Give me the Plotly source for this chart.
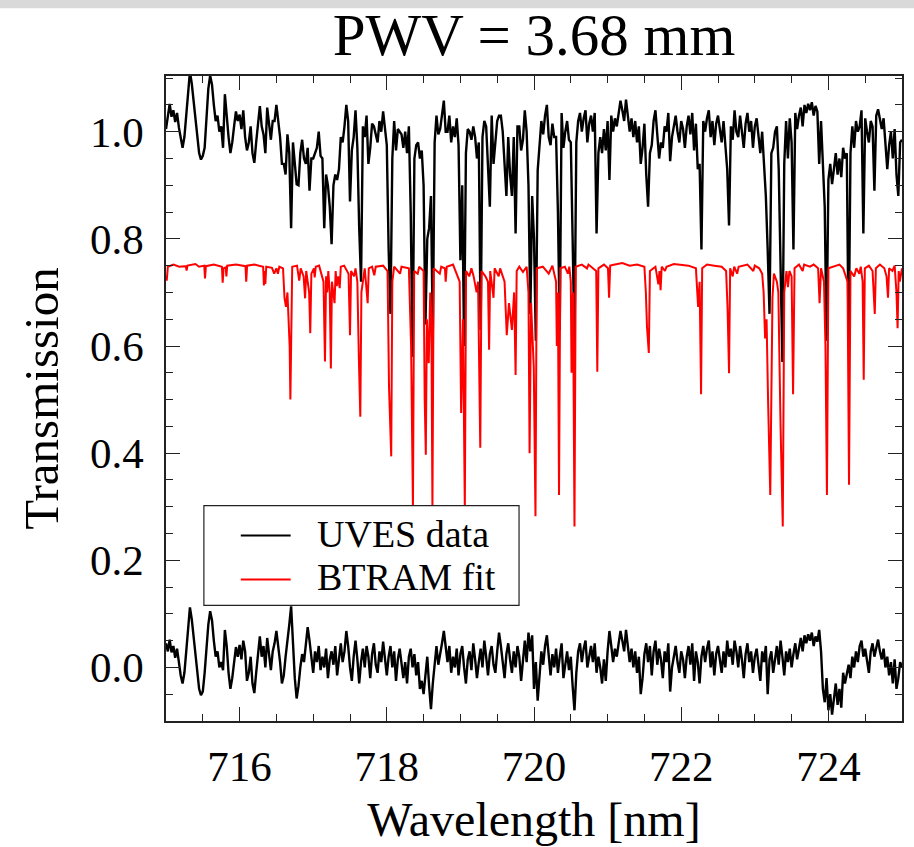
import plotly.graph_objects as go

# wavelength grid of the UVES spectrum (nm)
wl = [round(715.0 + 0.025 * i, 3) for i in range(401)]

# UVES observed transmission (one row = 0.25 nm)
uves = [
    1.005, 1.030, 1.052, 1.028, 1.040, 1.018, 1.035, 1.008, 0.985, 0.970,
    0.990, 1.030, 1.075, 1.112, 1.090, 1.060, 1.030, 0.990, 0.960, 0.948,
    0.955, 0.970, 1.035, 1.080, 1.105, 1.088, 1.050, 1.020, 1.030, 1.000,
    1.010, 0.970, 1.070, 1.020, 0.990, 0.960, 0.980, 1.010, 1.038, 1.020,
    1.032, 1.005, 1.040, 0.990, 0.965, 0.980, 1.010, 0.960, 0.942, 0.980,
    1.020, 1.048, 1.010, 0.995, 0.960, 1.045, 1.015, 0.985, 1.020, 1.020,
    1.050, 1.020, 0.990, 0.940, 0.940, 0.920, 0.995, 0.960, 0.820, 0.980,
    0.940, 0.902, 0.900, 0.960, 0.985, 0.950, 0.940, 0.970, 0.890, 0.950,
    0.950, 0.960, 0.970, 1.000, 0.955, 0.950, 0.820, 0.920, 0.900, 0.860,
    0.790, 0.900, 0.920, 0.910, 0.930, 0.990, 0.980, 1.010, 1.050, 1.020,
    0.870, 0.965, 0.990, 1.040, 0.970, 0.820, 0.720, 1.010, 0.990, 1.030,
    0.940, 0.970, 1.015, 1.010, 0.995, 0.980, 1.020, 1.000, 1.038, 1.005,
    0.975, 0.780, 0.660, 0.950, 1.020, 0.965, 1.005, 1.000, 0.995, 0.970,
    1.000, 0.960, 1.010, 0.850, 0.580, 0.950, 0.975, 0.980, 0.950, 0.965,
    0.900, 0.640, 0.800, 0.820, 0.880, 0.620, 0.980, 1.030, 0.995, 1.005,
    1.035, 1.058, 1.000, 1.000, 1.030, 0.980, 1.010, 0.990, 1.025, 0.975,
    0.760, 0.900, 0.600, 0.960, 1.005, 1.000, 0.985, 1.010, 0.990, 0.950,
    0.980, 0.630, 0.990, 1.020, 1.010, 0.920, 0.860, 1.030, 0.940, 0.980,
    1.020, 1.030, 1.030, 1.000, 0.940, 0.880, 0.990, 0.920, 0.880, 0.990,
    0.810, 1.010, 1.010, 0.965, 0.985, 1.040, 1.000, 0.900, 0.660, 0.880,
    0.800, 0.610, 0.928, 0.970, 1.020, 0.995, 1.030, 1.050, 0.990, 0.975,
    1.015, 0.990, 0.990, 0.850, 0.630, 1.035, 0.970, 1.000, 1.020, 0.985,
    0.980, 0.800, 0.600, 0.980, 1.020, 1.035, 1.000, 1.025, 1.040, 0.980,
    1.015, 1.030, 1.000, 1.035, 0.810, 0.960, 0.990, 0.960, 1.005, 0.965,
    1.020, 0.910, 1.030, 1.000, 1.025, 1.010, 1.035, 1.058, 1.040, 1.020,
    1.060, 1.030, 1.000, 1.025, 0.990, 1.020, 0.980, 1.010, 0.940, 0.970,
    1.015, 0.920, 0.860, 0.960, 0.975, 1.020, 1.040, 0.995, 0.950, 0.980,
    0.970, 1.010, 1.000, 1.035, 0.945, 0.990, 1.015, 1.030, 1.000, 0.980,
    1.020, 1.005, 0.970, 1.010, 1.030, 0.995, 1.035, 0.965, 1.015, 0.930,
    0.940, 0.780, 1.020, 1.000, 1.025, 1.040, 0.990, 1.020, 0.975, 1.015,
    1.030, 1.000, 0.980, 1.020, 0.980, 0.930, 0.825, 1.010, 0.985, 1.040,
    1.000, 0.990, 1.030, 1.005, 0.970, 1.015, 1.035, 1.000, 1.020, 0.970,
    1.010, 1.025, 0.990, 0.960, 1.000, 0.940, 0.880, 0.780, 0.660, 0.960,
    0.970, 1.000, 1.010, 0.930, 0.720, 0.570, 0.940, 1.020, 0.950, 1.025,
    0.980, 0.780, 1.035, 1.005, 1.030, 1.045, 1.010, 1.050, 1.035, 1.052,
    1.040, 1.055, 1.030, 1.048, 1.038, 0.940, 1.020, 0.950, 0.860, 0.610,
    0.910, 0.940, 0.902, 0.930, 0.960, 0.920, 0.950, 0.915, 0.970, 0.950,
    0.960, 0.600, 0.960, 1.010, 0.970, 1.020, 1.000, 1.010, 1.040, 0.810,
    1.025, 1.000, 0.980, 1.020, 1.010, 0.890, 1.030, 1.042, 1.020, 1.005,
    1.025, 0.980, 0.930, 0.975, 1.000, 0.950, 1.005, 0.920, 0.880, 0.980,
    0.985,
]

# residuals UVES - BTRAM (one row = 0.25 nm)
resid = [
    0.045, 0.030, 0.052, 0.028, 0.040, 0.018, 0.035, 0.008, -0.015, -0.030,
    -0.010, 0.030, 0.075, 0.112, 0.090, 0.060, 0.030, -0.010, -0.040, -0.052,
    -0.045, -0.010, 0.035, 0.080, 0.105, 0.088, 0.050, 0.020, 0.030, 0.000,
    0.010, -0.005, 0.070, 0.040, -0.010, -0.040, -0.020, 0.010, 0.038, 0.020,
    0.042, 0.015, 0.050, 0.030, -0.025, -0.010, 0.020, -0.030, -0.048, -0.010,
    0.030, 0.058, 0.020, 0.040, 0.000, 0.055, 0.025, -0.005, 0.030, 0.045,
    0.068, 0.040, 0.010, -0.030, -0.015, 0.020, 0.045, 0.080, 0.114, 0.040,
    -0.020, -0.058, -0.035, 0.000, 0.025, 0.010, 0.045, 0.075, 0.050, 0.020,
    -0.010, 0.030, 0.010, 0.040, -0.005, 0.020, 0.000, 0.035, -0.020, 0.015,
    0.030, 0.005, 0.040, -0.015, 0.020, 0.045, 0.010, 0.030, 0.068, 0.040,
    0.000, -0.025, 0.020, 0.050, 0.015, -0.030, 0.010, 0.035, 0.000, 0.040,
    0.020, -0.020, 0.025, 0.045, 0.005, -0.010, 0.030, 0.010, 0.048, 0.015,
    -0.015, 0.020, 0.040, 0.000, 0.030, -0.025, 0.015, 0.035, 0.005, -0.020,
    0.010, -0.030, 0.020, 0.035, 0.000, 0.025, -0.015, 0.010, -0.040, -0.025,
    -0.050, -0.010, 0.020, -0.035, -0.078, -0.030, 0.010, 0.040, 0.005, 0.030,
    0.045, 0.068, 0.035, 0.010, 0.040, -0.010, 0.020, 0.000, 0.035, -0.015,
    0.025, 0.040, 0.000, -0.030, 0.015, 0.030, -0.005, 0.045, 0.015, -0.020,
    0.010, 0.035, 0.000, 0.050, 0.020, -0.015, 0.025, 0.040, 0.005, -0.010,
    0.030, 0.065, 0.040, 0.010, -0.020, 0.025, 0.045, 0.015, -0.010, 0.030,
    0.000, 0.040, 0.020, -0.025, 0.015, 0.050, 0.010, 0.065, 0.030, 0.060,
    -0.040, 0.010, -0.062, -0.020, 0.030, 0.005, 0.040, 0.060, 0.020, -0.015,
    0.025, 0.000, 0.035, -0.010, 0.020, 0.045, -0.020, 0.010, 0.030, -0.005,
    0.020, -0.035, -0.080, -0.010, 0.030, 0.045, 0.010, 0.035, 0.050, 0.000,
    0.025, 0.040, 0.010, 0.045, -0.010, 0.020, 0.000, -0.030, 0.015, -0.025,
    0.030, 0.068, 0.040, 0.010, 0.035, 0.020, 0.045, 0.068, 0.050, 0.030,
    0.070, 0.040, 0.010, 0.035, 0.000, 0.030, -0.010, 0.020, -0.050, -0.020,
    0.025, 0.045, 0.010, 0.040, -0.015, 0.030, 0.050, 0.005, 0.035, 0.015,
    -0.020, 0.030, 0.010, 0.045, -0.045, 0.000, 0.025, 0.040, 0.010, -0.010,
    0.030, 0.015, -0.020, 0.020, 0.040, 0.005, 0.045, -0.025, 0.030, 0.010,
    -0.030, 0.020, 0.040, 0.010, 0.035, 0.050, 0.000, 0.030, -0.015, 0.025,
    0.040, 0.010, -0.010, 0.030, 0.000, 0.050, 0.020, 0.035, 0.005, 0.050,
    0.030, 0.000, 0.040, 0.015, -0.020, 0.025, 0.045, 0.010, 0.030, -0.010,
    0.020, 0.035, 0.000, -0.025, 0.030, 0.010, 0.040, -0.050, 0.015, 0.030,
    -0.010, 0.020, 0.040, 0.005, 0.050, 0.020, -0.015, 0.030, 0.010, 0.035,
    0.000, 0.025, 0.045, 0.015, 0.040, 0.055, 0.030, 0.060, 0.045, 0.062,
    0.050, 0.065, 0.040, 0.058, 0.048, 0.070, 0.030, -0.040, -0.065, -0.020,
    -0.080, -0.050, -0.088, -0.060, -0.030, -0.070, -0.040, -0.075, -0.010, -0.030,
    -0.010, 0.005, -0.020, 0.020, 0.000, 0.030, 0.010, 0.040, 0.050, 0.020,
    0.035, 0.010, -0.010, 0.030, 0.045, 0.020, 0.040, 0.052, 0.030, 0.015,
    0.035, 0.000, 0.020, -0.015, 0.010, -0.030, 0.015, -0.040, -0.020, 0.010,
    0.000,
]

# BTRAM model (shown offset, continuum at 0.75)
btram_wl = [
    715.000, 715.010, 715.025, 715.100, 715.180, 715.270, 715.280, 715.292, 715.400, 715.450,
    715.520, 715.530, 715.542, 715.650, 715.760, 715.770, 715.782, 715.812, 715.820, 715.832,
    715.950, 716.080, 716.090, 716.102, 716.200, 716.320, 716.330, 716.342, 716.350, 716.362,
    716.440, 716.470, 716.500, 716.520, 716.540, 716.590, 716.610, 716.630, 716.650, 716.680,
    716.690, 716.700, 716.715, 716.780, 716.810, 716.830, 716.870, 716.890, 716.905, 716.945,
    716.960, 716.975, 717.010, 717.020, 717.035, 717.080, 717.140, 717.160, 717.175, 717.190,
    717.205, 717.225, 717.240, 717.255, 717.290, 717.305, 717.320, 717.340, 717.360, 717.375,
    717.420, 717.480, 717.500, 717.515, 717.555, 717.575, 717.600, 717.620, 717.640, 717.655,
    717.700, 717.740, 717.755, 717.800, 717.830, 717.850, 717.950, 718.010, 718.030, 718.060,
    718.075, 718.100, 718.180, 718.200, 718.300, 718.330, 718.355, 718.372, 718.420, 718.440,
    718.500, 718.515, 718.530, 718.545, 718.570, 718.590, 718.605, 718.620, 718.637, 718.720,
    718.740, 718.790, 718.800, 718.815, 718.900, 718.990, 719.010, 719.035, 719.060, 719.077,
    719.120, 719.150, 719.180, 719.220, 719.240, 719.270, 719.287, 719.340, 719.375, 719.390,
    719.405, 719.450, 719.465, 719.520, 719.540, 719.600, 719.630, 719.660, 719.700, 719.730,
    719.750, 719.765, 719.800, 719.850, 719.900, 719.925, 719.940, 719.960, 719.997, 720.020,
    720.037, 720.120, 720.200, 720.250, 720.300, 720.310, 720.325, 720.340, 720.357, 720.420,
    720.460, 720.480, 720.500, 720.510, 720.530, 720.550, 720.567, 720.650, 720.720, 720.740,
    720.845, 720.860, 720.875, 720.950, 721.005, 721.020, 721.035, 721.100, 721.200, 721.300,
    721.400, 721.500, 721.520, 721.535, 721.560, 721.575, 721.650, 721.690, 721.705, 721.720,
    721.735, 721.780, 721.800, 721.900, 722.000, 722.100, 722.200, 722.230, 722.250, 722.270,
    722.285, 722.350, 722.450, 722.550, 722.610, 722.630, 722.650, 722.665, 722.700, 722.720,
    722.760, 722.780, 722.900, 722.980, 723.000, 723.060, 723.100, 723.120, 723.140, 723.160,
    723.180, 723.210, 723.240, 723.260, 723.300, 723.320, 723.350, 723.380, 723.400, 723.430,
    723.450, 723.470, 723.500, 723.520, 723.540, 723.600, 723.650, 723.670, 723.750, 723.800,
    723.860, 723.880, 723.900, 723.940, 723.960, 723.980, 724.000, 724.080, 724.150, 724.200,
    724.260, 724.280, 724.300, 724.350, 724.380, 724.420, 724.440, 724.465, 724.480, 724.495,
    724.550, 724.600, 724.630, 724.645, 724.700, 724.760, 724.790, 724.810, 724.825, 724.870,
    724.900, 724.925, 724.940, 724.955, 724.970, 725.000,
]
btram_tr = [
    0.730, 0.722, 0.748, 0.752, 0.748, 0.749, 0.741, 0.750, 0.753, 0.748,
    0.750, 0.726, 0.749, 0.752, 0.748, 0.718, 0.745, 0.747, 0.730, 0.750,
    0.752, 0.749, 0.720, 0.750, 0.752, 0.748, 0.713, 0.740, 0.716, 0.748,
    0.746, 0.735, 0.745, 0.735, 0.748, 0.745, 0.690, 0.673, 0.700, 0.600,
    0.500, 0.620, 0.748, 0.750, 0.722, 0.745, 0.730, 0.689, 0.740, 0.700,
    0.624, 0.735, 0.745, 0.728, 0.748, 0.750, 0.720, 0.571, 0.730, 0.700,
    0.740, 0.700, 0.558, 0.720, 0.680, 0.740, 0.712, 0.730, 0.708, 0.748,
    0.750, 0.735, 0.620, 0.740, 0.730, 0.745, 0.720, 0.580, 0.468, 0.700,
    0.745, 0.680, 0.745, 0.748, 0.732, 0.748, 0.750, 0.740, 0.524, 0.394,
    0.720, 0.748, 0.735, 0.748, 0.745, 0.600, 0.300, 0.740, 0.735, 0.748,
    0.740, 0.500, 0.397, 0.650, 0.568, 0.700, 0.650, 0.300, 0.745, 0.735,
    0.748, 0.745, 0.720, 0.748, 0.752, 0.720, 0.475, 0.650, 0.300, 0.740,
    0.730, 0.745, 0.730, 0.700, 0.720, 0.410, 0.740, 0.730, 0.720, 0.593,
    0.740, 0.690, 0.745, 0.730, 0.745, 0.720, 0.620, 0.680, 0.630, 0.700,
    0.546, 0.740, 0.748, 0.738, 0.748, 0.700, 0.400, 0.680, 0.560, 0.282,
    0.745, 0.748, 0.735, 0.750, 0.720, 0.600, 0.700, 0.322, 0.745, 0.748,
    0.735, 0.748, 0.720, 0.550, 0.700, 0.263, 0.748, 0.752, 0.745, 0.752,
    0.740, 0.552, 0.745, 0.752, 0.745, 0.690, 0.750, 0.752, 0.755, 0.750,
    0.752, 0.748, 0.700, 0.636, 0.587, 0.740, 0.748, 0.715, 0.740, 0.704,
    0.748, 0.740, 0.748, 0.753, 0.752, 0.750, 0.745, 0.673, 0.720, 0.510,
    0.745, 0.752, 0.750, 0.748, 0.740, 0.670, 0.549, 0.745, 0.730, 0.748,
    0.735, 0.748, 0.752, 0.740, 0.750, 0.745, 0.735, 0.700, 0.614, 0.650,
    0.500, 0.322, 0.690, 0.735, 0.720, 0.700, 0.450, 0.263, 0.700, 0.740,
    0.710, 0.740, 0.730, 0.510, 0.745, 0.752, 0.740, 0.752, 0.748, 0.752,
    0.745, 0.680, 0.745, 0.720, 0.600, 0.322, 0.745, 0.748, 0.752, 0.745,
    0.720, 0.341, 0.740, 0.730, 0.745, 0.735, 0.748, 0.720, 0.537, 0.745,
    0.750, 0.740, 0.660, 0.745, 0.752, 0.745, 0.730, 0.690, 0.745, 0.740,
    0.750, 0.700, 0.633, 0.740, 0.720, 0.745,
]

legend_labels = ["UVES data", "BTRAM fit"]
legend_colors = ["black", "red"]

SERIF = "Liberation Serif, Times New Roman, serif"
FRAME = "#222222"

fig = go.Figure()
fig.add_trace(go.Scatter(x=wl, y=uves, mode="lines", name=legend_labels[0], showlegend=False,
                         line=dict(color=legend_colors[0], width=2.4)))
fig.add_trace(go.Scatter(x=wl, y=resid, mode="lines", name="residual", showlegend=False,
                         line=dict(color=legend_colors[0], width=2.4)))
fig.add_trace(go.Scatter(x=btram_wl, y=btram_tr, mode="lines", name=legend_labels[1], showlegend=False,
                         line=dict(color=legend_colors[1], width=2)))

# plot area in pixels: x 166..904, y 76..723
def px_x(p):
    return (p - 166) / 738.0

def px_y(p):
    return (723 - p) / 647.0

shapes = [
    # light grey strip at the top of the page
    dict(type="rect", xref="paper", yref="paper", x0=-0.3, x1=1.1,
         y0=px_y(8), y1=px_y(-20), fillcolor="#d9d9d9", line=dict(width=0), layer="below"),
    # legend box
    dict(type="rect", xref="paper", yref="paper", x0=px_x(204), x1=px_x(520),
         y0=px_y(607), y1=px_y(507), fillcolor="white", line=dict(color=FRAME, width=1.2),
         layer="above"),
]
annotations = []
for k, (lab, col) in enumerate(zip(legend_labels, legend_colors)):
    yl = 535 + 44 * k
    shapes.append(dict(type="line", xref="paper", yref="paper", x0=px_x(241), x1=px_x(291),
                       y0=px_y(yl + 2), y1=px_y(yl + 2), line=dict(color=col, width=2), layer="above"))
    annotations.append(dict(text=lab, xref="paper", yref="paper", x=px_x(316), y=px_y(yl),
                            xanchor="left", yanchor="middle", showarrow=False, borderpad=0,
                            font=dict(family=SERIF, size=38, color="black")))

axis_common = dict(
    showline=True, linecolor=FRAME, linewidth=1.5, mirror="ticks",
    ticks="inside", tickcolor=FRAME, tickwidth=1.2,
    showgrid=False, zeroline=False,
    tickfont=dict(family=SERIF, size=43, color="black"),
)

fig.update_layout(
    width=914, height=847,
    margin=dict(l=166, r=10, t=76, b=124),
    paper_bgcolor="white", plot_bgcolor="white",
    showlegend=False,
    title=dict(text="PWV = 3.68 mm", x=0.5, xref="paper", xanchor="center",
               y=0.959, yref="container", yanchor="middle",
               font=dict(family=SERIF, size=59, color="black")),
    shapes=shapes,
    annotations=annotations,
)

fig.update_xaxes(
    **axis_common, range=[715, 725], dtick=2, tick0=716, ticklen=14,
    ticklabelstandoff=7,
    minor=dict(dtick=0.5, ticklen=7, ticks="inside", tickcolor=FRAME, tickwidth=1.2, showgrid=False),
    title=dict(text="Wavelength [nm]", font=dict(family=SERIF, size=48, color="black"), standoff=13),
)
fig.update_yaxes(
    **axis_common, range=[-0.1, 1.104], dtick=0.2, tick0=0, tickformat=".1f", ticklen=14,
    ticklabelstandoff=12,
    minor=dict(dtick=0.05, ticklen=7, ticks="inside", tickcolor=FRAME, tickwidth=1.2, showgrid=False),
    title=dict(text="Transmission", font=dict(family=SERIF, size=49, color="black"), standoff=16),
)

fig.write_html("out.html")
